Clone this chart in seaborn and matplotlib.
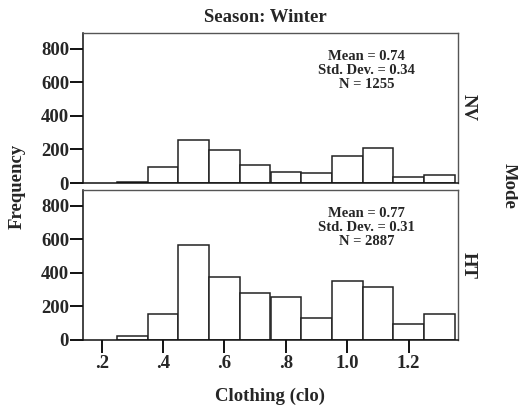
import numpy as np
import pandas as pd
import matplotlib
matplotlib.use("Agg")
import matplotlib.pyplot as plt
import seaborn as sns

# Clothing insulation bins (clo) and frequencies per mode, winter season
bin_edges = [0.25, 0.35, 0.45, 0.55, 0.65, 0.75, 0.85, 0.95, 1.05, 1.15, 1.25, 1.35]
nv_counts = [5, 96, 257, 194, 110, 68, 60, 162, 206, 36, 48]
ht_counts = [26, 155, 565, 373, 282, 256, 133, 351, 317, 93, 153]
modes = ["NV", "HT"]
stats = {
    "NV": "Mean = 0.74\nStd. Dev. = 0.34\nN = 1255",
    "HT": "Mean = 0.77\nStd. Dev. = 0.31\nN = 2887",
}
x_ticks = [0.2, 0.4, 0.6, 0.8, 1.0, 1.2]
x_tick_labels = [".2", ".4", ".6", ".8", "1.0", "1.2"]
y_ticks = [0, 200, 400, 600, 800]

centers = [(a + b) / 2 for a, b in zip(bin_edges[:-1], bin_edges[1:])]
df = pd.DataFrame({
    "clo": centers * 2,
    "count": nv_counts + ht_counts,
    "mode": ["NV"] * len(centers) + ["HT"] * len(centers),
})

sns.set_theme(style="white")
plt.rcParams["font.family"] = ["Liberation Serif", "DejaVu Serif"]
plt.rcParams["font.weight"] = "bold"

FS = 13.5
W, H = 518, 407
fig = plt.figure(figsize=(W / 100, H / 100), dpi=100)

left, right = 83, 458
panels = {"NV": (33, 183), "HT": (190, 340)}
axes = {}
for mode in modes:
    top, bottom = panels[mode]
    ax = fig.add_axes([left / W, 1 - bottom / H, (right - left) / W, (bottom - top) / H])
    axes[mode] = ax
    sns.histplot(data=df[df["mode"] == mode], x="clo", weights="count",
                 bins=bin_edges, ax=ax, color="white", edgecolor="#222222",
                 linewidth=1.1, alpha=1.0)
    ax.set_xlim(0.139, 1.361)
    ax.set_ylim(0, 895)
    ax.set_yticks(y_ticks)
    ax.set_yticklabels([str(v) for v in y_ticks], fontsize=FS, fontweight="bold")
    ax.set_xticks(x_ticks)
    ax.set_xlabel("")
    ax.set_ylabel("")
    for side in ["top", "right"]:
        ax.spines[side].set_color("#555555")
        ax.spines[side].set_linewidth(1.0)
    for side in ["left", "bottom"]:
        ax.spines[side].set_color("#111111")
        ax.spines[side].set_linewidth(1.1)
    ax.tick_params(axis="y", left=True, direction="out", length=9.5, width=1.4,
                   color="#111111", pad=0.5)
    ax.text(0.757, 0.885, stats[mode], transform=ax.transAxes, ha="center", va="top",
            fontsize=10.5, fontweight="bold", linespacing=1.1)
    ax.text((468 - left) / (right - left), 0.5, mode, transform=ax.transAxes,
            rotation=-90, ha="center", va="center", fontsize=FS, fontweight="bold")

axes["NV"].tick_params(axis="x", bottom=False, labelbottom=False)
axes["HT"].set_xticklabels(x_tick_labels, fontsize=FS, fontweight="bold")
axes["HT"].tick_params(axis="x", bottom=True, direction="out", length=9, width=1.4,
                       color="#111111", pad=2)

fig.text(265 / W, 1 - 18 / H, "Season: Winter", ha="center", va="center",
         fontsize=FS, fontweight="bold")
fig.text(270 / W, 1 - 396 / H, "Clothing (clo)", ha="center", va="center",
         fontsize=FS, fontweight="bold")
fig.text(17 / W, 1 - 186 / H, "Frequency", ha="center", va="center",
         rotation=90, fontsize=FS, fontweight="bold")
fig.text(509 / W, 1 - 186 / H, "Mode", ha="center", va="center",
         rotation=-90, fontsize=FS, fontweight="bold")

fig.savefig("out.png", dpi=100, facecolor="white")
